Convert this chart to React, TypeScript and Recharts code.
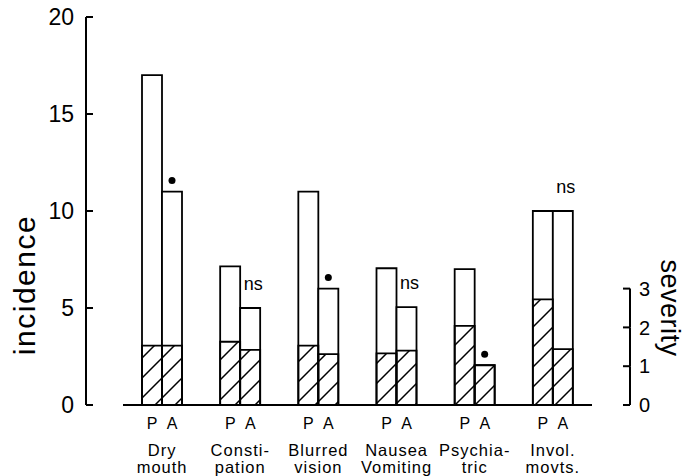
import { Bar, BarChart, LabelList, XAxis, YAxis } from "recharts"

const categories = ["Dry mouth", "Constipation", "Blurred vision", "Nausea Vomiting", "Psychiatric", "Invol. movts."]
const labelTop = ["Dry", "Consti-", "Blurred", "Nausea", "Psychia-", "Invol."]
const labelBottom = ["mouth", "pation", "vision", "Vomiting", "tric", "movts."]

// incidence (left axis) and severity (right axis) for P and A
const incidenceP = [17, 7.15, 11, 7.05, 7, 10]
const incidenceA = [11, 5, 6, 5.05, 2.05, 10]
const severityP = [1.53, 1.63, 1.53, 1.33, 2.04, 2.72]
const severityA = [1.53, 1.42, 1.31, 1.4, 1.03, 1.44]
const marks = ["•", "ns", "•", "ns", "•", "ns"]

const incidenceTicks = [0, 5, 10, 15, 20]
const severityTicks = [0, 1, 2, 3]

const data = categories.map((name, i) => ({
  name,
  incP: incidenceP[i],
  incA: incidenceA[i],
  sevP: severityP[i],
  sevA: severityA[i],
  mark: marks[i],
}))

const font = "'Liberation Sans', Arial, sans-serif"

function IncidenceTick({ x, y, payload }: any) {
  return (
    <g>
      <line x1={x} x2={x + 7} y1={y} y2={y} stroke="#000" strokeWidth={2} />
      <text x={x - 12} y={y} dy="0.36em" textAnchor="end" fontSize={23} fill="#000">
        {payload.value}
      </text>
    </g>
  )
}

const sevTickY: Record<number, number> = {}

function SeverityTick({ x, y, payload }: any) {
  const v = payload.value
  sevTickY[v] = y
  const below = sevTickY[v - 1]
  return (
    <g>
      <line x1={x - 7} x2={x} y1={y} y2={y} stroke="#000" strokeWidth={2} />
      {below !== undefined && <line x1={x} x2={x} y1={below} y2={y} stroke="#000" strokeWidth={2} />}
      <text x={x + 9} y={y} dy="0.36em" textAnchor="start" fontSize={20} fill="#000">
        {v}
      </text>
    </g>
  )
}

function CategoryTick({ x, y, index }: any) {
  return (
    <g fill="#000">
      <text x={x - 10} y={y + 24} textAnchor="middle" fontSize={16}>P</text>
      <text x={x + 10} y={y + 24} textAnchor="middle" fontSize={16}>A</text>
      <text x={x} y={y + 51} textAnchor="middle" fontSize={16.5} letterSpacing={1}>{labelTop[index]}</text>
      <text x={x} y={y + 68} textAnchor="middle" fontSize={16.5} letterSpacing={1}>{labelBottom[index]}</text>
    </g>
  )
}

function MarkLabel({ x, y, width, value }: any) {
  const cx = x + width / 2
  if (value === "•") return <circle cx={cx} cy={y - 11} r={3.5} fill="#000" />
  return (
    <text x={cx + 3} y={y - 18} textAnchor="middle" fontSize={18} fill="#000">
      {value}
    </text>
  )
}

const incidenceTitle = (props: any) => {
  const vb = props.viewBox
  const cx = vb.x + 24
  const cy = vb.y + vb.height / 2 + 74
  return (
    <text x={cx} y={cy} dy="0.355em" transform={`rotate(-90 ${cx} ${cy})`} textAnchor="middle" fontSize={30} letterSpacing={1.5} fill="#000">
      incidence
    </text>
  )
}

const severityTitle = (props: any) => {
  const vb = props.viewBox
  const cx = vb.x + 31
  const cy = vb.y + vb.height / 2 + 97
  return (
    <text x={cx} y={cy} transform={`rotate(90 ${cx} ${cy})`} textAnchor="middle" fontSize={27} letterSpacing={0.5} fill="#000">
      severity
    </text>
  )
}

export default function App() {
  return (
    <div style={{ position: "absolute", left: 0, top: 0, fontFamily: font, background: "#fff" }}>
      <BarChart
        width={686}
        height={476}
        data={data}
        margin={{ top: 17, right: 0, bottom: 0, left: 0 }}
        barSize={20}
        barGap={0}
      >
        <defs>
          <pattern id="hatch" patternUnits="userSpaceOnUse" width={20} height={20}>
            <path d="M0,20 L20,0 M-5,5 L5,-5 M15,25 L25,15" stroke="#000" strokeWidth={1.5} />
          </pattern>
        </defs>
        <XAxis
          xAxisId="main"
          dataKey="name"
          height={71}
          tickSize={0}
          tickMargin={0}
          tickLine={false}
          axisLine={{ stroke: "#000", strokeWidth: 2 }}
          tick={<CategoryTick />}
          interval={0}
        />
        <XAxis xAxisId="sev" dataKey="name" hide />
        <YAxis
          yAxisId="inc"
          width={86}
          domain={[0, 20]}
          ticks={incidenceTicks}
          tickSize={0}
          tickMargin={0}
          tickLine={false}
          axisLine={{ stroke: "#000", strokeWidth: 2 }}
          tick={<IncidenceTick />}
          label={incidenceTitle}
        />
        <YAxis yAxisId="aspace" width={37} domain={[0, 1]} tick={false} tickLine={false} axisLine={false} />
        <YAxis yAxisId="rspace" orientation="right" width={38} domain={[0, 1]} tick={false} tickLine={false} axisLine={false} />
        <YAxis
          yAxisId="sev"
          orientation="right"
          width={56}
          domain={[0, 10]}
          ticks={severityTicks}
          tickSize={0}
          tickMargin={0}
          tickLine={false}
          axisLine={false}
          tick={<SeverityTick />}
          label={severityTitle}
        />
        <Bar xAxisId="main" yAxisId="inc" dataKey="incP" fill="#fff" stroke="#000" strokeWidth={1.8} isAnimationActive={false} />
        <Bar xAxisId="main" yAxisId="inc" dataKey="incA" fill="#fff" stroke="#000" strokeWidth={1.8} isAnimationActive={false}>
          <LabelList dataKey="mark" content={<MarkLabel />} />
        </Bar>
        <Bar xAxisId="sev" yAxisId="sev" dataKey="sevP" fill="url(#hatch)" stroke="#000" strokeWidth={1.8} isAnimationActive={false} />
        <Bar xAxisId="sev" yAxisId="sev" dataKey="sevA" fill="url(#hatch)" stroke="#000" strokeWidth={1.8} isAnimationActive={false} />
      </BarChart>
    </div>
  )
}
